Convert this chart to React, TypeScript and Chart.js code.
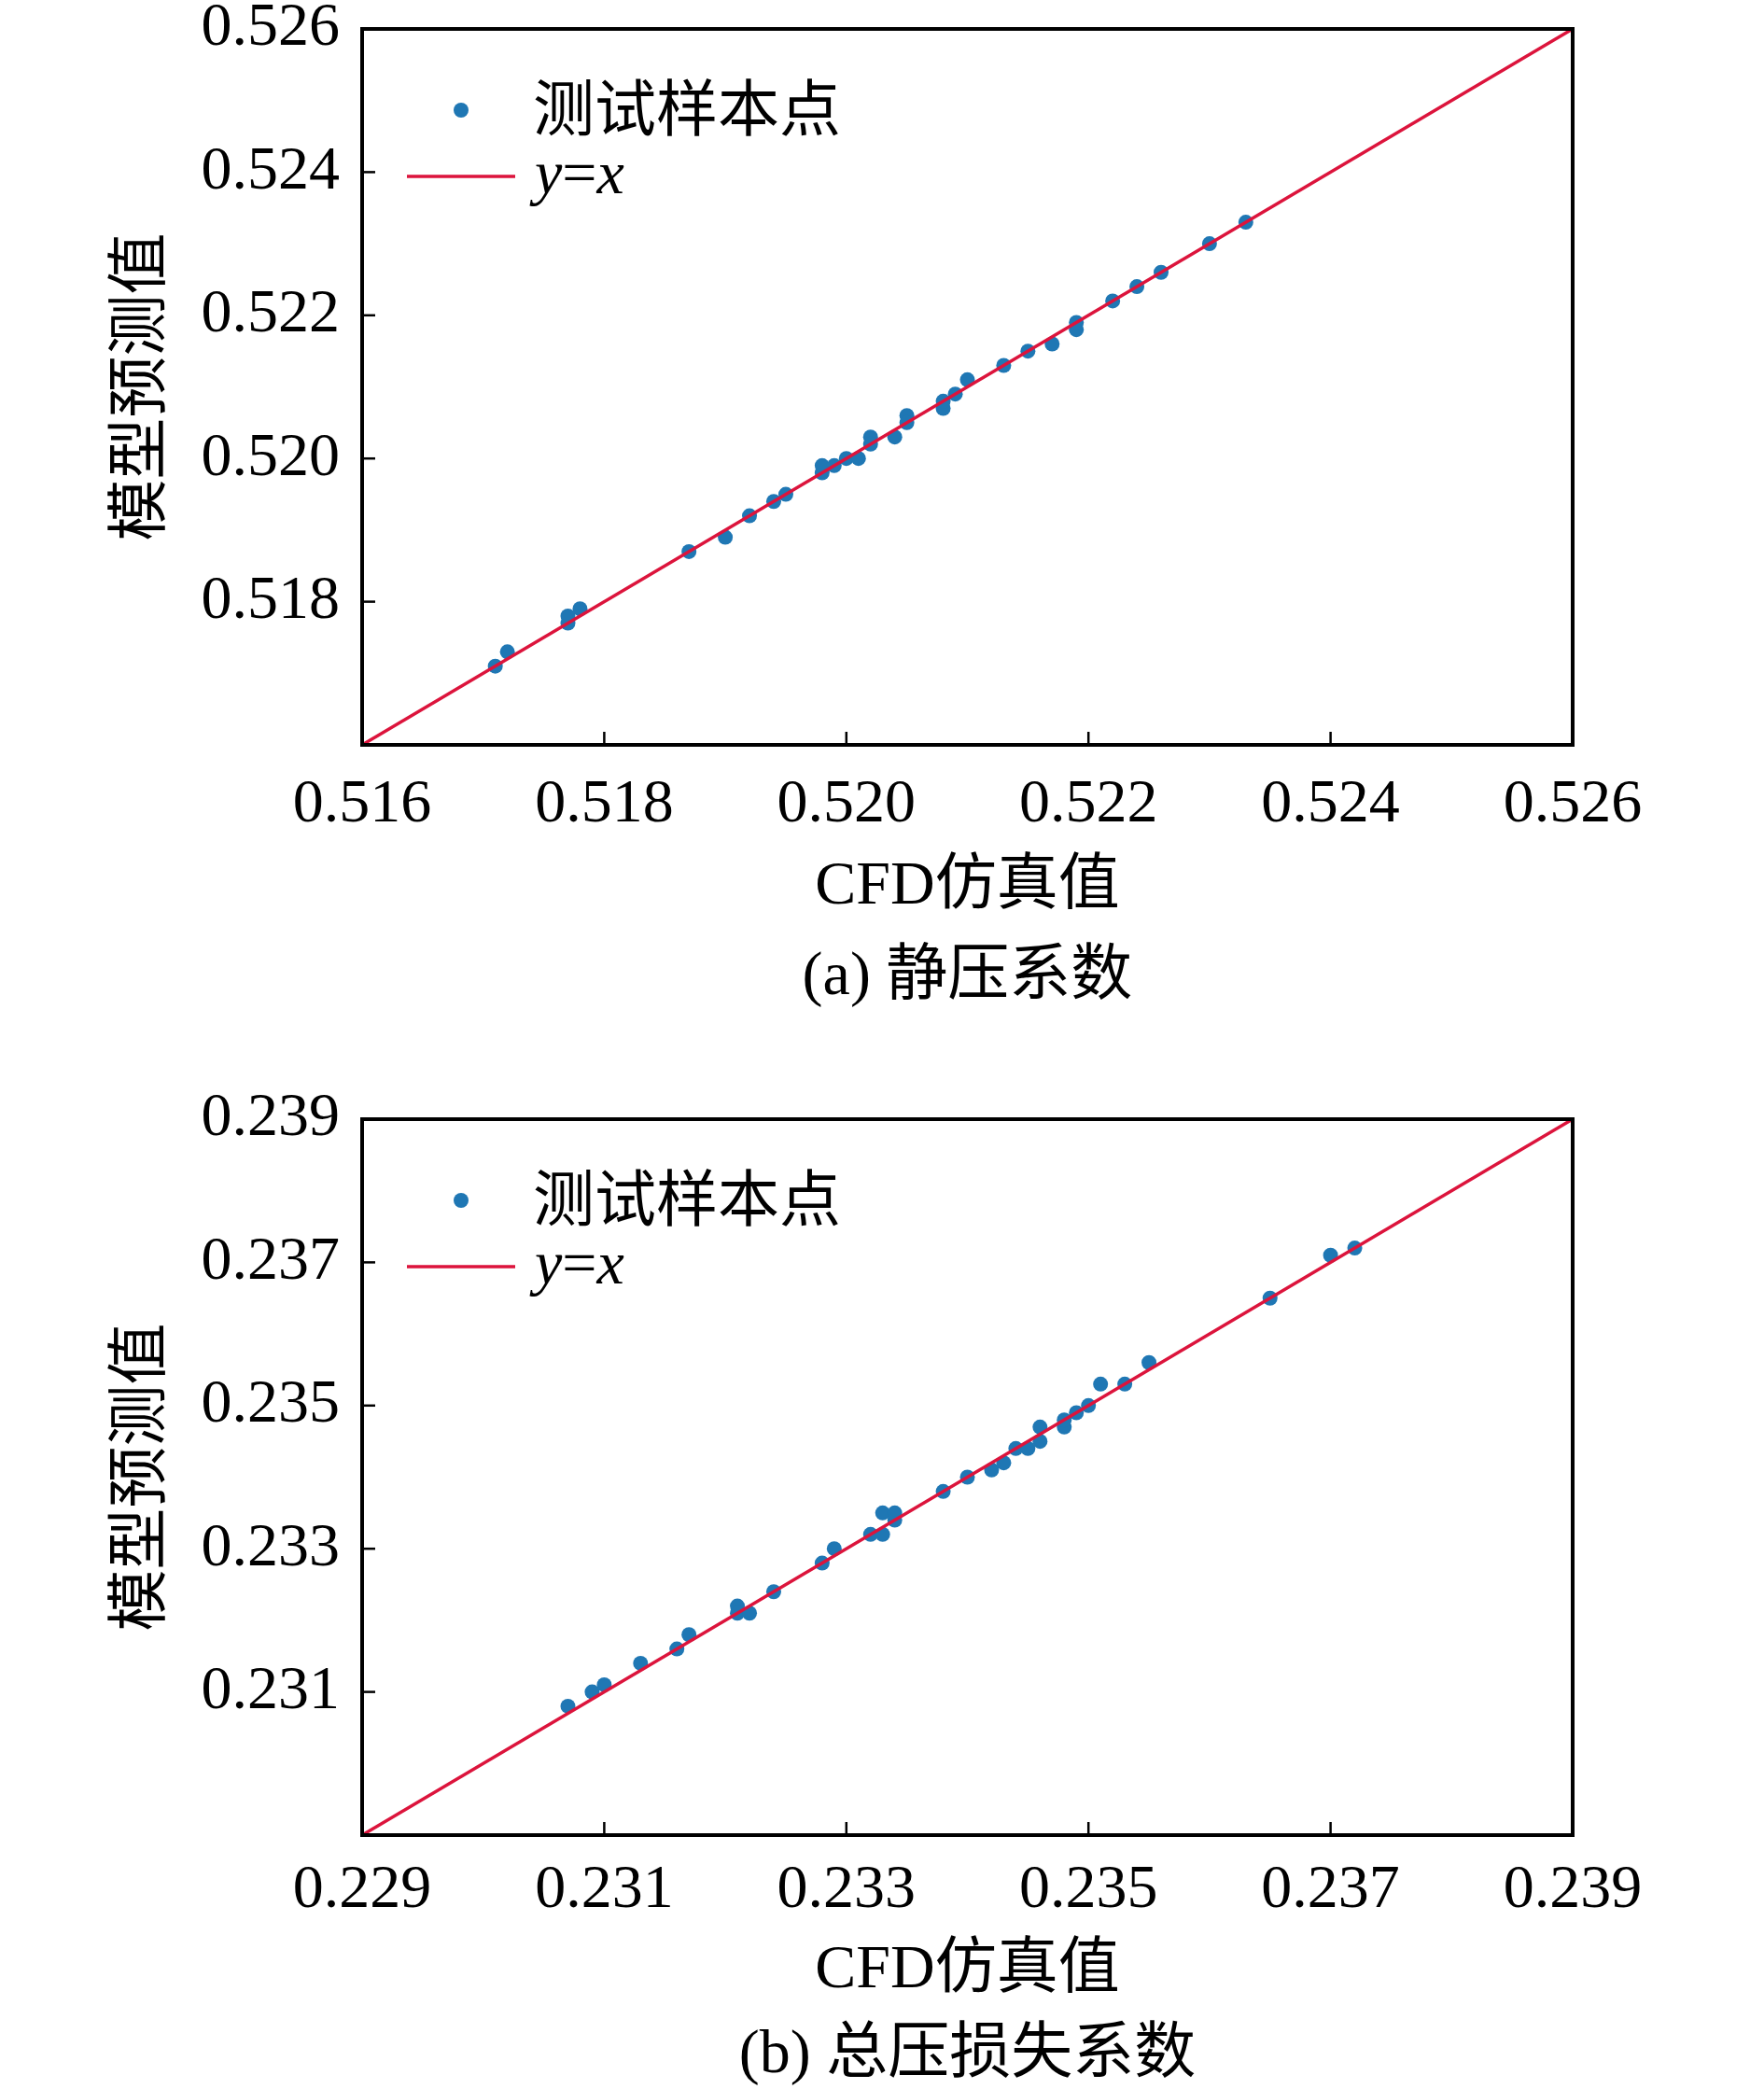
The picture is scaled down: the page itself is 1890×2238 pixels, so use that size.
import React, { useRef, useEffect } from 'react';
import { Chart, registerables } from 'chart.js';

Chart.register(...registerables);

// (a) static pressure coefficient
const A_CFD = [0.5171, 0.5172, 0.5177, 0.5177, 0.5178, 0.5187, 0.5190, 0.5192, 0.5194, 0.5195, 0.5198, 0.5198, 0.5199, 0.5200, 0.5201, 0.5202, 0.5202, 0.5204, 0.5205, 0.5205, 0.5208, 0.5208, 0.5209, 0.5210, 0.5213, 0.5215, 0.5217, 0.5219, 0.5219, 0.5222, 0.5224, 0.5226, 0.5230, 0.5233];
const A_PRED = [0.5171, 0.5173, 0.5177, 0.5178, 0.5179, 0.5187, 0.5189, 0.5192, 0.5194, 0.5195, 0.5198, 0.5199, 0.5199, 0.5200, 0.5200, 0.5203, 0.5202, 0.5203, 0.5206, 0.5205, 0.5207, 0.5208, 0.5209, 0.5211, 0.5213, 0.5215, 0.5216, 0.5218, 0.5219, 0.5222, 0.5224, 0.5226, 0.5230, 0.5233];
const A_RANGE = [0.516, 0.526];

// (b) total pressure loss coefficient
const B_CFD = [0.2307, 0.2309, 0.2310, 0.2313, 0.2316, 0.2317, 0.2321, 0.2321, 0.2322, 0.2324, 0.2328, 0.2329, 0.2332, 0.2333, 0.2333, 0.2334, 0.2334, 0.2338, 0.2340, 0.2342, 0.2343, 0.2344, 0.2345, 0.2346, 0.2346, 0.2348, 0.2348, 0.2349, 0.2350, 0.2351, 0.2353, 0.2355, 0.2365, 0.2370, 0.2372];
const B_PRED = [0.2308, 0.2310, 0.2311, 0.2314, 0.2316, 0.2318, 0.2322, 0.2321, 0.2321, 0.2324, 0.2328, 0.2330, 0.2332, 0.2332, 0.2335, 0.2334, 0.2335, 0.2338, 0.2340, 0.2341, 0.2342, 0.2344, 0.2344, 0.2345, 0.2347, 0.2347, 0.2348, 0.2349, 0.2350, 0.2353, 0.2353, 0.2356, 0.2365, 0.2371, 0.2372];
const B_RANGE = [0.229, 0.239];

const STEP = 0.002;
const X_TITLE = 'CFD仿真值';
const Y_TITLE = '模型预测值';
const POINT_LABEL = '测试样本点';
const LINE_LABEL = 'y=x';

const FONT = "'Liberation Serif', 'Noto Sans CJK SC', serif";
const FS = 66;
const BLUE = '#1f77b4';
const RED = '#dc143c';

// frame, inward ticks and the legend inside the plot
const framePlugin = {
  id: 'frameLegend',
  afterDraw(chart: any) {
    const { ctx, chartArea: a, scales } = chart;
    const sx = scales.x, sy = scales.y;
    const eps = 1e-9;
    ctx.save();
    ctx.strokeStyle = '#000';
    ctx.lineWidth = 2.5;
    sx.ticks.forEach((t: any) => {
      if (t.value <= sx.min + eps || t.value >= sx.max - eps) return;
      const p = sx.getPixelForValue(t.value);
      ctx.beginPath(); ctx.moveTo(p, a.bottom); ctx.lineTo(p, a.bottom - 14); ctx.stroke();
    });
    sy.ticks.forEach((t: any) => {
      if (t.value <= sy.min + eps || t.value >= sy.max - eps) return;
      const p = sy.getPixelForValue(t.value);
      ctx.beginPath(); ctx.moveTo(a.left, p); ctx.lineTo(a.left + 14, p); ctx.stroke();
    });
    ctx.lineWidth = 4;
    ctx.strokeRect(a.left, a.top, a.right - a.left, a.bottom - a.top);

    // legend
    const ds = chart.data.datasets;
    ctx.fillStyle = BLUE;
    ctx.beginPath(); ctx.arc(a.left + 106, a.top + 87, 8, 0, Math.PI * 2); ctx.fill();
    ctx.fillStyle = '#000';
    ctx.textBaseline = 'middle';
    ctx.textAlign = 'left';
    ctx.font = `${FS}px ${FONT}`;
    ctx.fillText(ds[1].label, a.left + 183, a.top + 92);

    ctx.strokeStyle = RED;
    ctx.lineWidth = 3.5;
    ctx.beginPath(); ctx.moveTo(a.left + 48, a.top + 158); ctx.lineTo(a.left + 164, a.top + 158); ctx.stroke();
    // y=x with italic letters
    let x = a.left + 185;
    const ly = a.top + 159;
    const label: string = ds[0].label;
    for (const ch of label) {
      ctx.font = ch === '=' ? `${FS}px ${FONT}` : `italic ${FS}px ${FONT}`;
      ctx.fillText(ch, x, ly);
      x += ctx.measureText(ch).width;
    }
    ctx.restore();
  },
};

interface PanelProps {
  cfd: number[];
  pred: number[];
  range: number[];
  top: number;
  tickPad: number;
  titlePad: number;
}

const Panel: React.FC<PanelProps> = ({ cfd, pred, range, top, tickPad, titlePad }) => {
  const ref = useRef<HTMLCanvasElement>(null);

  useEffect(() => {
    if (!ref.current) return;
    const font = { family: FONT, size: FS };
    const chart = new Chart(ref.current, {
      type: 'scatter',
      data: {
        datasets: [
          {
            label: LINE_LABEL,
            data: range.map((v) => ({ x: v, y: v })),
            showLine: true,
            borderColor: RED,
            borderWidth: 3.5,
            pointRadius: 0,
            order: 0,
          },
          {
            label: POINT_LABEL,
            data: cfd.map((v, i) => ({ x: v, y: pred[i] })),
            backgroundColor: BLUE,
            borderWidth: 0,
            pointRadius: 8,
            order: 1,
          },
        ],
      } as any,
      options: {
        animation: false,
        responsive: true,
        maintainAspectRatio: false,
        layout: { padding: { top: 81, right: 205, left: 0, bottom: 0 } },
        plugins: { legend: { display: false }, tooltip: { enabled: false } },
        scales: {
          x: {
            type: 'linear',
            min: range[0],
            max: range[1],
            grid: { display: false, drawTicks: false },
            border: { display: false },
            ticks: { stepSize: STEP, padding: tickPad, color: '#000', font, maxRotation: 0, callback: (v: any) => Number(v).toFixed(3) },
            title: { display: true, text: X_TITLE, color: '#000', font, padding: { top: 0, bottom: titlePad } },
            afterFit: (s: any) => { s.height = 202; },
          },
          y: {
            type: 'linear',
            min: range[0],
            max: range[1],
            grid: { display: false, drawTicks: false },
            border: { display: false },
            ticks: {
              stepSize: STEP, padding: 24, color: '#000', font,
              callback: (v: any, i: number) => (i === 0 ? '' : Number(v).toFixed(3)),
            },
            title: { display: true, text: Y_TITLE, color: '#000', font, padding: { top: 114, bottom: 0 } },
            afterFit: (s: any) => { s.width = 388; },
          },
        },
      } as any,
      plugins: [framePlugin],
    });
    return () => chart.destroy();
  }, [cfd, pred, range, tickPad, titlePad]);

  return (
    <div style={{ position: 'absolute', left: 0, top, width: 1890, height: 1050 }}>
      <canvas ref={ref}></canvas>
    </div>
  );
};

const captionStyle = (top: number): React.CSSProperties => ({
  position: 'absolute',
  left: 388,
  width: 1297,
  top,
  height: 80,
  lineHeight: '80px',
  textAlign: 'center',
  fontFamily: FONT,
  fontSize: FS,
  color: '#000',
});

export default function App() {
  return (
    <div style={{ position: 'absolute', left: 0, top: 0, width: 1890, height: 2238, background: '#fff', overflow: 'hidden' }}>
      <Panel cfd={A_CFD} pred={A_PRED} range={A_RANGE} top={-50} tickPad={25} titlePad={10} />
      <div style={captionStyle(1003)}>(a) 静压系数</div>
      <Panel cfd={B_CFD} pred={B_PRED} range={B_RANGE} top={1118} tickPad={20} titlePad={17} />
      <div style={captionStyle(2158)}>(b) 总压损失系数</div>
    </div>
  );
}
